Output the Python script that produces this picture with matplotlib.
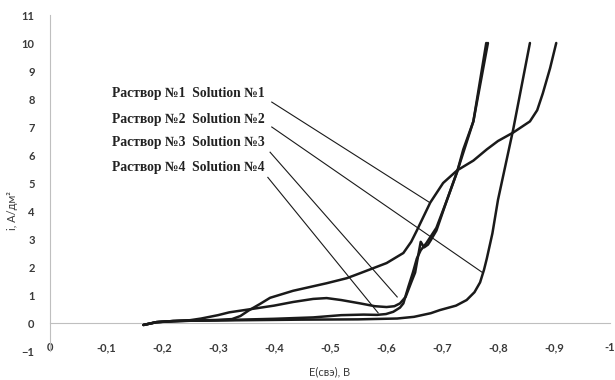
import numpy as np
import matplotlib
matplotlib.use("Agg")
import matplotlib.pyplot as plt

# Polarization curves, E (V vs. NHE) and i (A/dm2)
e_a = [-0.167, -0.19, -0.22, -0.26, -0.30, -0.325, -0.34, -0.355, -0.375, -0.393, -0.434,
       -0.494, -0.53, -0.554, -0.601, -0.631, -0.645, -0.655, -0.679, -0.702, -0.727,
       -0.756, -0.78, -0.80, -0.827, -0.857, -0.87, -0.88, -0.893, -0.904]
i_a = [-0.07, 0.03, 0.07, 0.09, 0.11, 0.14, 0.25, 0.45, 0.68, 0.9, 1.15,
       1.42, 1.6, 1.78, 2.14, 2.5, 2.9, 3.3, 4.3, 5.0, 5.45,
       5.8, 6.2, 6.5, 6.8, 7.2, 7.6, 8.2, 9.1, 10.0]

e_b = [-0.167, -0.19, -0.22, -0.25, -0.27, -0.30, -0.32, -0.35, -0.40, -0.434, -0.47,
       -0.494, -0.52, -0.554, -0.58, -0.601, -0.615, -0.625, -0.635, -0.646, -0.652,
       -0.657, -0.662, -0.668, -0.675, -0.68, -0.69, -0.709, -0.727, -0.738, -0.756, -0.782]
i_b = [-0.07, 0.03, 0.07, 0.1, 0.16, 0.28, 0.38, 0.47, 0.62, 0.75, 0.86,
       0.89, 0.82, 0.7, 0.6, 0.57, 0.6, 0.7, 0.93, 1.5, 1.8,
       2.36, 2.9, 2.7, 2.8, 2.96, 3.3, 4.4, 5.4, 6.2, 7.2, 10.0]

e_c = [-0.167, -0.19, -0.22, -0.30, -0.40, -0.47, -0.52, -0.56, -0.584, -0.60, -0.613,
       -0.625, -0.631, -0.64, -0.648, -0.655, -0.662, -0.672, -0.69, -0.709, -0.727,
       -0.756, -0.779]
i_c = [-0.07, 0.03, 0.07, 0.1, 0.15, 0.2, 0.28, 0.3, 0.29, 0.32, 0.4,
       0.55, 0.7, 1.3, 1.8, 2.3, 2.6, 2.85, 3.4, 4.4, 5.4,
       7.2, 10.0]

e_d = [-0.167, -0.19, -0.22, -0.25, -0.35, -0.45, -0.55, -0.62, -0.65, -0.68, -0.696,
       -0.725, -0.744, -0.758, -0.768, -0.775, -0.78, -0.79, -0.80, -0.827, -0.857]
i_d = [-0.07, 0.03, 0.06, 0.08, 0.1, 0.12, 0.13, 0.16, 0.22, 0.35, 0.46,
       0.62, 0.82, 1.1, 1.45, 1.9, 2.3, 3.2, 4.4, 6.9, 10.0]

labels = ["Раствор №1  Solution №1", "Раствор №2  Solution №2",
          "Раствор №3  Solution №3", "Раствор №4  Solution №4"]
label_y = [8.21, 7.25, 6.43, 5.54]
leader_start = [(-0.396, 7.89), (-0.396, 7.0), (-0.393, 6.1), (-0.389, 5.2)]
leader_end = [(-0.679, 4.29), (-0.771, 1.82), (-0.620, 0.93), (-0.586, 0.36)]

x_ticks = np.round(np.arange(0, -1.01, -0.1), 1)
x_tick_labels = ["0" if t == 0 else ("-1" if t == -1 else f"{t:.1f}".replace(".", ",")) for t in x_ticks]
y_ticks = list(range(-1, 12))

axis_grey = "#bfbfbf"
text_grey = "#3a3a3a"
curve_col = "#1a1a1a"

fig = plt.figure(figsize=(6.15, 3.8), dpi=100)
ax = fig.add_axes([50 / 615, 29 / 380, 560 / 615, 336 / 380])

for e, i in [(e_a, i_a), (e_b, i_b), (e_c, i_c), (e_d, i_d)]:
    ax.plot(e, i, color=curve_col, lw=1.8, solid_joinstyle="round", solid_capstyle="round")

for (x0, y0), (x1, y1) in zip(leader_start, leader_end):
    ax.plot([x0, x1], [y0, y1], color=curve_col, lw=0.8)

for lab, y in zip(labels, label_y):
    ax.text(-0.111, y, lab, ha="left", va="center", fontsize=9.8,
            family="Liberation Serif", weight="bold", color="#222222")

ax.set_xlim(0, -1)
ax.set_ylim(-1, 11)
ax.set_xticks(x_ticks)
ax.set_xticklabels(x_tick_labels)
ax.set_yticks(y_ticks)

ax.spines["top"].set_visible(False)
ax.spines["right"].set_visible(False)
ax.spines["bottom"].set_position(("data", 0))
ax.spines["bottom"].set_color(axis_grey)
ax.spines["left"].set_color(axis_grey)
ax.spines["bottom"].set_zorder(0)

ax.tick_params(axis="both", length=0, labelsize=8, labelcolor=text_grey)
ax.tick_params(axis="x", pad=14)
ax.tick_params(axis="y", pad=11)
for t in ax.get_xticklabels() + ax.get_yticklabels():
    t.set_fontfamily("Lato")
    t.set_fontweight("bold")

fig.text(330 / 615, 1 - 372 / 380, "E(свэ), В", ha="center", va="center",
         fontsize=8, family="Lato", color=text_grey)
fig.text(13 / 615, 1 - 210 / 380, "i, A/дм²", ha="center", va="center",
         rotation=90, fontsize=8, family="Lato", color=text_grey)

fig.savefig("out.png", dpi=100)
